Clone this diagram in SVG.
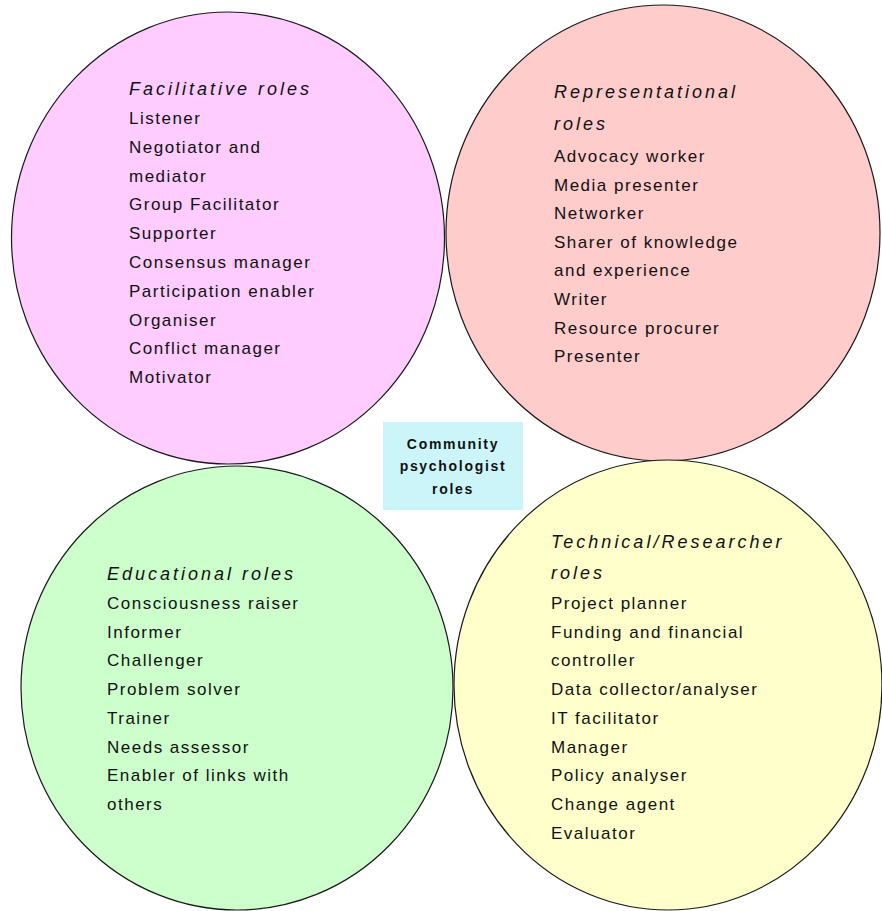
<svg xmlns="http://www.w3.org/2000/svg" width="882" height="911" viewBox="0 0 882 911">
<style>
.bg{fill:#ffffff}
.circ{stroke:#1a1a1a;stroke-width:1.2}
.title{font-family:"Liberation Sans",Arial,sans-serif;font-size:18px;font-style:italic;letter-spacing:3px;fill:#111}
.item{font-family:"Liberation Sans",Arial,sans-serif;font-size:17px;letter-spacing:1.5px;fill:#111}
.center{font-family:"Liberation Sans",Arial,sans-serif;font-size:14px;font-weight:bold;letter-spacing:1.7px;fill:#111;text-anchor:middle}
</style>
<rect class="bg" x="0" y="0" width="882" height="911"/>
<g id="facilitative">
<ellipse class="circ" cx="228" cy="238" rx="216.5" ry="226" fill="#ffccff"/>
<text class="title" x="129" y="95">Facilitative roles</text>
<text class="item" x="129" y="124">Listener</text>
<text class="item" x="129" y="152.8">Negotiator and</text>
<text class="item" x="129" y="181.6">mediator</text>
<text class="item" x="129" y="210.4">Group Facilitator</text>
<text class="item" x="129" y="239.2">Supporter</text>
<text class="item" x="129" y="268">Consensus manager</text>
<text class="item" x="129" y="296.8">Participation enabler</text>
<text class="item" x="129" y="325.6">Organiser</text>
<text class="item" x="129" y="354.4">Conflict manager</text>
<text class="item" x="129" y="383.2">Motivator</text>
</g>
<g id="representational">
<ellipse class="circ" cx="663" cy="233" rx="217" ry="228" fill="#ffcccc"/>
<text class="title" x="554" y="98">Representational</text>
<text class="title" x="554" y="130">roles</text>
<text class="item" x="554" y="162">Advocacy worker</text>
<text class="item" x="554" y="190.6">Media presenter</text>
<text class="item" x="554" y="219.2">Networker</text>
<text class="item" x="554" y="247.8">Sharer of knowledge</text>
<text class="item" x="554" y="276.4">and experience</text>
<text class="item" x="554" y="305">Writer</text>
<text class="item" x="554" y="333.6">Resource procurer</text>
<text class="item" x="554" y="362.2">Presenter</text>
</g>
<g id="educational">
<ellipse class="circ" cx="237" cy="688" rx="216" ry="222" fill="#ccffcc"/>
<text class="title" x="107" y="580">Educational roles</text>
<text class="item" x="107" y="609">Consciousness raiser</text>
<text class="item" x="107" y="637.7">Informer</text>
<text class="item" x="107" y="666.4">Challenger</text>
<text class="item" x="107" y="695">Problem solver</text>
<text class="item" x="107" y="724">Trainer</text>
<text class="item" x="107" y="753">Needs assessor</text>
<text class="item" x="107" y="781">Enabler of links with</text>
<text class="item" x="107" y="810">others</text>
</g>
<g id="technical">
<ellipse class="circ" cx="668" cy="685" rx="214" ry="225" fill="#ffffcc"/>
<text class="title" x="551" y="548">Technical/Researcher</text>
<text class="title" x="551" y="579">roles</text>
<text class="item" x="551" y="609">Project planner</text>
<text class="item" x="551" y="637.7">Funding and financial</text>
<text class="item" x="551" y="666.4">controller</text>
<text class="item" x="551" y="695">Data collector/analyser</text>
<text class="item" x="551" y="724">IT facilitator</text>
<text class="item" x="551" y="753">Manager</text>
<text class="item" x="551" y="781">Policy analyser</text>
<text class="item" x="551" y="810">Change agent</text>
<text class="item" x="551" y="839">Evaluator</text>
</g>
<g id="center">
<rect x="383" y="422" width="140" height="88" fill="#ccf5fa"/>
<text class="center" x="453" y="449">Community</text>
<text class="center" x="453" y="471">psychologist</text>
<text class="center" x="453" y="494">roles</text>
</g>
<g id="connectors"></g>
</svg>
